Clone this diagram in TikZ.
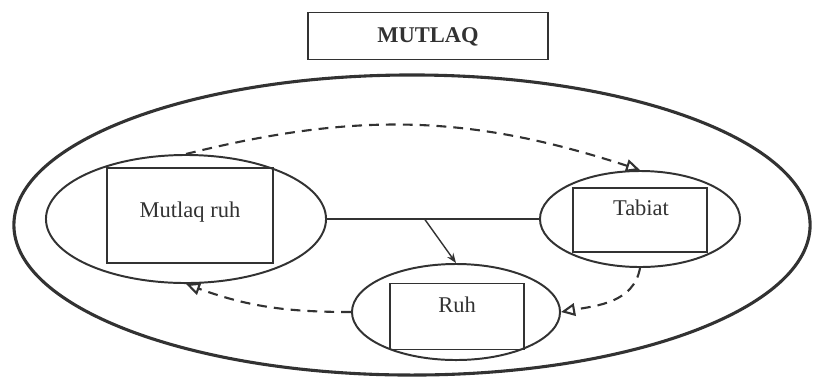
\documentclass[tikz,border=0pt]{standalone}
\usepackage{fontspec}
\setmainfont{Liberation Serif}
\usetikzlibrary{shapes.geometric, arrows.meta, positioning}
\definecolor{myink}{RGB}{50,50,50}
\tikzset{
  world/.style={ellipse, draw=myink, line width=2.2pt,
    minimum width=19.9cm, minimum height=7.5cm},
  oval/.style={ellipse, draw=myink, line width=1.4pt},
  box/.style={rectangle, draw=myink, line width=0.8pt},
  lbl/.style={font=\fontsize{16}{19}\selectfont, text=myink, inner sep=0pt},
  dasharrow/.style={-{Triangle[open, length=10pt, width=9pt]}, dash pattern=on 7pt off 5pt,
    line width=1.5pt, color=myink},
  arrow/.style={-{Stealth[length=7pt]}, line width=1pt, color=myink},
  line/.style={line width=1pt, color=myink}
}

\begin{document}
\begin{tikzpicture}[x=0.025cm, y=-0.025cm]
  \useasboundingbox (0,0) rectangle (821,378);
  % outer oval and title
  \node[world] (world) at (412,225) {};
  \node[box, minimum width=6.0cm, minimum height=1.18cm] (mutlaq) at (428,36) {};
  \node[lbl, font=\fontsize{16}{19}\selectfont\bfseries] (mutlaqlbl) at (428,37) {MUTLAQ};
  % the three ovals
  \node[oval, minimum width=7cm, minimum height=3.2cm] (mr) at (186,219) {};
  \node[oval, minimum width=5cm, minimum height=2.4cm] (tb) at (640,219) {};
  \node[oval, minimum width=5.2cm, minimum height=2.4cm] (rh) at (456,312) {};
  % boxes inside the ovals
  \node[box, minimum width=4.15cm, minimum height=2.375cm] (mrbox) at (190,215.5) {};
  \node[box, minimum width=3.35cm, minimum height=1.6cm] (tbbox) at (640,220) {};
  \node[box, minimum width=3.35cm, minimum height=1.63cm] (rhbox) at (457,316.5) {};
  \node[lbl] (mrlbl) at (190,212) {Mutlaq ruh};
  \node[lbl] (tblbl) at (641,208) {Tabiat};
  \node[lbl] (rhlbl) at (457,305) {Ruh};
  % links
  \draw[line] (mr.east) -- coordinate[pos=0.46] (split) (tb.west);
  \draw[arrow] (split) -- (rh.north);
  \draw[dasharrow] (mr.north) to[bend left=16] (tb.north);
  \draw[dasharrow] (tb.south) to[out=-100, in=10] (rh.east);
  \draw[dasharrow] (rh.west) to[out=180, in=-20] (mr.south);
\end{tikzpicture}
\end{document}
